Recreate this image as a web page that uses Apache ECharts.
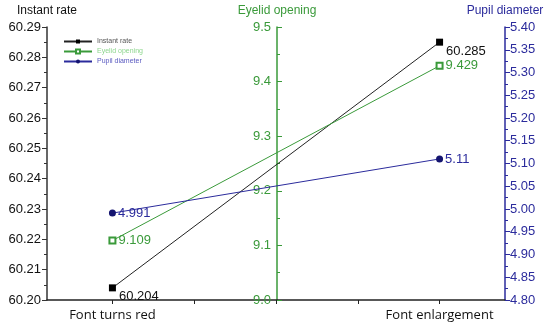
<!DOCTYPE html>
<html><head><meta charset="utf-8">
<script src="https://cdn.jsdelivr.net/npm/echarts@6/dist/echarts.min.js"></script>
<style>html,body{margin:0;padding:0;background:#fff}#c{width:550px;height:330px}</style>
</head><body><div id="c"></div>
<script>
const categories = ['Font turns red', 'Font enlargement'];
const catPos = [1, 2];
const instantRate = [60.204, 60.285];
const eyelidOpening = [9.109, 9.429];
const pupilDiameter = [4.991, 5.11];
const seriesNames = ['Instant rate', 'Eyelid opening', 'Pupil diameter'];

const chart = echarts.init(document.getElementById('c'));
const numFont = 'Liberation Sans, Arial, sans-serif';
const green = '#3a9a3a', blue = '#2b2b9c', black = '#222';
function pairs(v){ return v.map((y,i)=>[catPos[i], y]); }

chart.setOption({
  animation: false,
  grid: {left: 47, right: 45, top: 27, bottom: 30},
  legend: {
    left: 58, top: 33, orient: 'vertical', itemGap: 3, itemWidth: 28, itemHeight: 5,
    textStyle: {fontSize: 7, fontFamily: numFont},
    data: [
      {name: seriesNames[0], textStyle: {color: '#555'}},
      {name: seriesNames[1], textStyle: {color: '#8ed68e'}},
      {name: seriesNames[2], textStyle: {color: '#5a5ac0'}}
    ]
  },
  xAxis: {
    type: 'value', min: 0.8, max: 2.2,
    axisLine: {lineStyle: {color: black, width: 1.5}},
    axisTick: {show: true, length: 4, lineStyle: {color: black}, customValues: [1, 1.25, 1.5, 1.75, 2]},
    axisLabel: {customValues: catPos, formatter: v => categories[catPos.indexOf(v)] || '',
      color: '#111', fontSize: 13, fontFamily: 'Open Sans, Noto Sans, sans-serif', margin: 9},
    splitLine: {show: false}
  },
  yAxis: [
    {type: 'value', position: 'left', min: 60.20, max: 60.29, interval: 0.01,
     name: 'Instant rate', nameGap: 10, nameTextStyle: {color: '#111', fontSize: 12, fontFamily: numFont},
     axisLine: {show: true, lineStyle: {color: '#333', width: 1.5}},
     axisTick: {show: true, length: 5, lineStyle: {color: '#333'}},
     minorTick: {show: true, splitNumber: 2, length: 3, lineStyle: {color: '#333'}},
     axisLabel: {formatter: v => v.toFixed(2), color: '#111', fontSize: 13, fontFamily: numFont, margin: 6},
     splitLine: {show: false}},
    {type: 'value', position: 'left', offset: -230, min: 9.0, max: 9.5, interval: 0.1,
     name: 'Eyelid opening', nameGap: 10, nameTextStyle: {color: green, fontSize: 12, fontFamily: numFont},
     axisLine: {show: true, onZero: false, lineStyle: {color: green, width: 1.5}},
     axisTick: {show: true, inside: true, length: 5, lineStyle: {color: green}},
     minorTick: {show: true, splitNumber: 2, length: 3, lineStyle: {color: green}},
     axisLabel: {formatter: v => v.toFixed(1), color: green, fontSize: 13, fontFamily: numFont, margin: 6},
     splitLine: {show: false}},
    {type: 'value', position: 'right', min: 4.80, max: 5.40, interval: 0.05,
     name: 'Pupil diameter', nameGap: 10, nameTextStyle: {color: blue, fontSize: 12, fontFamily: numFont},
     axisLine: {show: true, lineStyle: {color: blue, width: 1.5}},
     axisTick: {show: true, length: 5, lineStyle: {color: blue}},
     minorTick: {show: true, splitNumber: 2, length: 3, lineStyle: {color: blue}},
     axisLabel: {formatter: v => v.toFixed(2), color: blue, fontSize: 13, fontFamily: numFont, margin: 5},
     splitLine: {show: false}}
  ],
  series: [
    {name: seriesNames[0], type: 'line', yAxisIndex: 0, data: pairs(instantRate),
     symbol: 'rect', symbolSize: 7, lineStyle: {color: black, width: 1}, itemStyle: {color: '#000'},
     label: {show: true, position: 'right', offset: [0, 9], distance: 3, color: '#111', fontSize: 13, fontFamily: numFont}},
    {name: seriesNames[1], type: 'line', yAxisIndex: 1, data: pairs(eyelidOpening),
     symbol: 'emptyRect', symbolSize: 6, lineStyle: {color: green, width: 1}, itemStyle: {color: green, borderWidth: 1},
     label: {show: true, position: 'right', distance: 2, color: green, fontSize: 13, fontFamily: numFont}},
    {name: seriesNames[2], type: 'line', yAxisIndex: 2, data: pairs(pupilDiameter),
     symbol: 'circle', symbolSize: 7, lineStyle: {color: blue, width: 1}, itemStyle: {color: '#141470'},
     label: {show: true, position: 'right', distance: 2, color: blue, fontSize: 13, fontFamily: numFont}}
  ]
});
</script></body></html>
